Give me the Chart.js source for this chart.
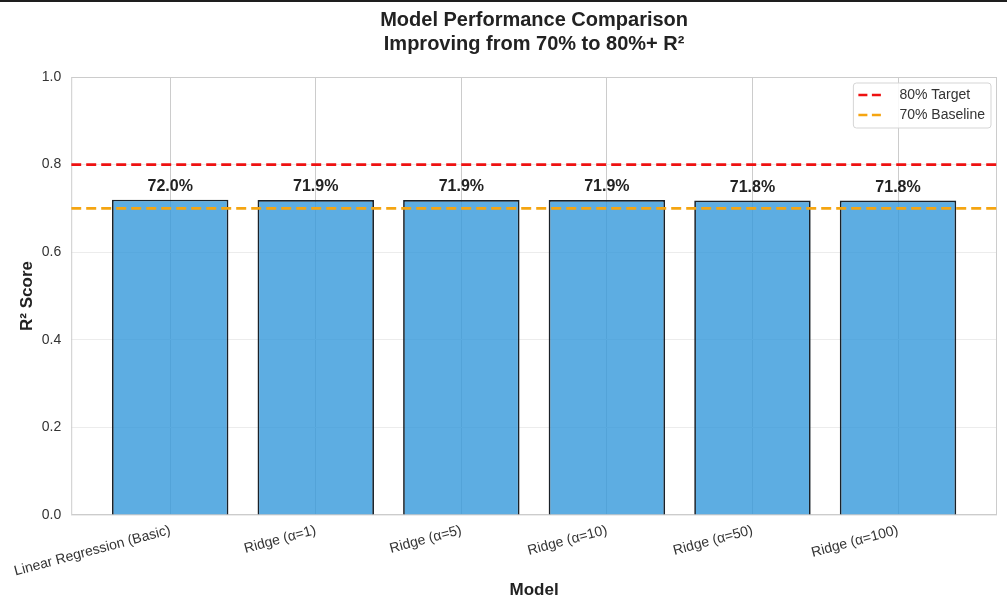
<!DOCTYPE html>
<html>
<head>
<meta charset="utf-8">
<script src="https://cdn.jsdelivr.net/npm/chart.js@4"></script>
<style>
  html, body { margin: 0; padding: 0; background: #fff; }
  #wrap { position: relative; width: 1007px; height: 599px; }
  #wrap::before { content: ''; position: absolute; left: 0; top: 0; width: 100%; height: 2px; background: #1e1e1e; z-index: 2; }
</style>
</head>
<body>
<div id="wrap"><canvas id="perf" width="1007" height="599"></canvas></div>
<script>
const models = ['Linear Regression (Basic)', 'Ridge (α=1)', 'Ridge (α=5)', 'Ridge (α=10)', 'Ridge (α=50)', 'Ridge (α=100)'];
const r2 = [0.720, 0.719, 0.719, 0.719, 0.718, 0.718];
const target = 0.8;
const baseline = 0.7;
const yTicks = [0, 0.2, 0.4, 0.6, 0.8, 1.0];
const xMin = -0.68, xMax = models.length - 1 + 0.68;

const FONT = '"Liberation Sans", Arial, sans-serif';
Chart.defaults.font.family = FONT;
Chart.defaults.color = '#333';

// frame around the plot, value labels and an in-plot legend
const extras = {
  id: 'extras',
  beforeDatasetsDraw(chart) {
    const a = chart.chartArea, c = chart.ctx;
    c.save();
    c.strokeStyle = '#cccccc';
    c.lineWidth = 1;
    c.strokeRect(a.left + 0.5, a.top + 0.5, a.width - 1, a.height - 1);
    c.restore();
  },
  afterDatasetsDraw(chart) {
    const c = chart.ctx, a = chart.chartArea;
    const meta = chart.getDatasetMeta(0);
    c.save();
    c.font = 'bold 16px ' + FONT;
    c.fillStyle = '#222';
    c.textAlign = 'center';
    c.textBaseline = 'bottom';
    meta.data.forEach((bar, i) => {
      c.fillText((r2[i] * 100).toFixed(1) + '%', bar.x, bar.y - 5);
    });

    // legend
    const items = chart.data.datasets.slice(1);
    c.font = '14px ' + FONT;
    const textW = Math.max(...items.map(d => c.measureText(d.label).width));
    const w = 46 + textW + 6, h = 45;
    const x0 = a.right - 6 - w, y0 = a.top + 6;
    c.beginPath();
    c.roundRect(x0, y0, w, h, 3);
    c.fillStyle = 'rgba(255,255,255,0.85)';
    c.fill();
    c.strokeStyle = '#d5d5d5';
    c.lineWidth = 1;
    c.stroke();
    items.forEach((d, i) => {
      const y = y0 + 12 + i * 20;
      c.beginPath();
      c.setLineDash([9, 4.5]);
      c.strokeStyle = d.borderColor;
      c.lineWidth = 2.5;
      c.moveTo(x0 + 5, y);
      c.lineTo(x0 + 32, y);
      c.stroke();
      c.setLineDash([]);
      c.fillStyle = '#333';
      c.textAlign = 'left';
      c.textBaseline = 'middle';
      c.fillText(d.label, x0 + 46, y);
    });
    c.restore();
  }
};

new Chart(document.getElementById('perf'), {
  data: {
    datasets: [{
      type: 'bar',
      label: 'R²',
      data: models.map((m, i) => ({ x: i, y: r2[i] })),
      backgroundColor: 'rgba(52,152,219,0.8)',
      borderColor: '#1a2128',
      borderWidth: 1.7,
      categoryPercentage: 1,
      barPercentage: 0.8,
      order: 2
    }, {
      type: 'line',
      label: '80% Target',
      data: [{ x: xMin, y: target }, { x: xMax, y: target }],
      borderColor: '#ee1111',
      borderWidth: 2.7,
      borderDash: [10, 5],
      pointRadius: 0,
      order: 1
    }, {
      type: 'line',
      label: '70% Baseline',
      data: [{ x: xMin, y: baseline }, { x: xMax, y: baseline }],
      borderColor: '#f5a511',
      borderWidth: 2.7,
      borderDash: [10, 5],
      pointRadius: 0,
      order: 1
    }]
  },
  options: {
    responsive: false,
    animation: false,
    layout: { padding: { left: 0, right: 10, top: 0, bottom: 0 } },
    plugins: {
      legend: { display: false },
      tooltip: { enabled: false },
      title: {
        display: true,
        fullSize: false,
        text: ['Model Performance Comparison', 'Improving from 70% to 80%+ R²'],
        font: { size: 20, weight: 'bold', lineHeight: 1.2 },
        color: '#222',
        padding: { top: 8, bottom: 21 }
      }
    },
    scales: {
      x: {
        type: 'linear',
        offset: false,
        min: xMin,
        max: xMax,
        afterBuildTicks: s => { s.ticks = models.map((m, i) => ({ value: i })); },
        afterFit: s => { s.height = 84; },
        grid: { color: '#cccccc', lineWidth: 1, drawTicks: false, offset: false },
        border: { display: false },
        ticks: {
          autoSkip: false,
          minRotation: 15,
          maxRotation: 15,
          padding: 7,
          font: { size: 14 },
          color: '#333',
          callback: v => models[v] ?? ''
        },
        title: {
          display: true,
          text: 'Model',
          font: { size: 17, weight: 'bold', lineHeight: 1 },
          color: '#222',
          padding: { top: 0, bottom: 0 }
        }
      },
      y: {
        min: 0,
        max: 1,
        afterBuildTicks: s => { s.ticks = yTicks.map(v => ({ value: v })); },
        afterFit: s => { s.width = 70; },
        grid: { color: '#ececec', lineWidth: 1, drawTicks: false },
        border: { display: false },
        ticks: {
          padding: 10,
          font: { size: 14 },
          color: '#333',
          callback: v => Number(v).toFixed(1)
        },
        title: {
          display: true,
          text: 'R² Score',
          font: { size: 17, weight: 'bold', lineHeight: 1.2 },
          color: '#222',
          padding: { top: 16, bottom: 0 }
        }
      }
    }
  },
  plugins: [extras]
});
</script>
</body>
</html>
